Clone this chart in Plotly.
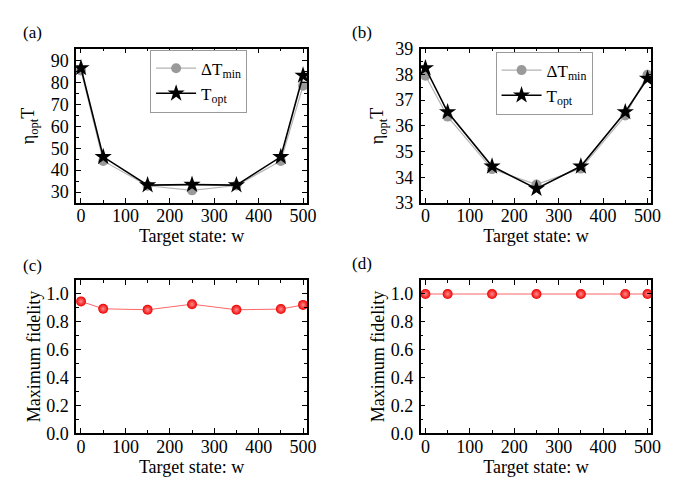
import plotly.graph_objects as go

w = [0, 50, 150, 250, 350, 450, 500]

# Panel (a)
a_dtmin = [85.5, 44.2, 32.9, 30.8, 33.0, 44.2, 78.5]
a_topt = [86.6, 46.1, 33.2, 33.4, 33.2, 46.1, 83.2]
# Panel (b)
b_dtmin = [37.95, 36.36, 34.32, 33.72, 34.34, 36.40, 37.99]
b_topt = [38.25, 36.54, 34.43, 33.56, 34.43, 36.54, 37.84]
# Panel (c), (d)
c_fid = [0.945, 0.892, 0.885, 0.925, 0.885, 0.89, 0.92]
d_fid = [0.998, 0.998, 0.998, 0.998, 0.998, 0.998, 0.998]

FONT = "'Liberation Serif', 'Times New Roman', 'DejaVu Serif', serif"
W, H = 689, 487

def px_x(a, b):
    return [a / W, b / W]

def px_y(top, bottom):
    return [1 - bottom / H, 1 - top / H]

fig = go.Figure()

gray_line = dict(color="#b4b4b4", width=1.2)
gray_marker = dict(symbol="circle", size=10, color="#9a9a9a")
black_line = dict(color="black", width=1.6)
star_marker = dict(symbol="star", size=13, color="black")
red_marker = dict(symbol="circle", size=10, color="#ee0000",
                  gradient=dict(type="radial", color="#ff8c8c"))
red_line = dict(color="#ff6666", width=1)

fig.add_trace(go.Scatter(x=w, y=a_dtmin, mode="lines+markers", line=gray_line, marker=gray_marker,
                         name="ΔT<sub>min</sub>", xaxis="x", yaxis="y", legend="legend"))
fig.add_trace(go.Scatter(x=w, y=a_topt, mode="lines+markers", line=black_line, marker=star_marker,
                         name="T<sub>opt</sub>", xaxis="x", yaxis="y", legend="legend"))
fig.add_trace(go.Scatter(x=w, y=b_dtmin, mode="lines+markers", line=gray_line, marker=gray_marker,
                         name="ΔT<sub>min</sub>", xaxis="x2", yaxis="y2", legend="legend2"))
fig.add_trace(go.Scatter(x=w, y=b_topt, mode="lines+markers", line=black_line, marker=star_marker,
                         name="T<sub>opt</sub>", xaxis="x2", yaxis="y2", legend="legend2"))
fig.add_trace(go.Scatter(x=w, y=c_fid, mode="lines+markers", line=red_line, marker=red_marker,
                         showlegend=False, xaxis="x3", yaxis="y3"))
fig.add_trace(go.Scatter(x=w, y=d_fid, mode="lines+markers", line=red_line, marker=red_marker,
                         showlegend=False, xaxis="x4", yaxis="y4"))

tickfont = dict(family=FONT, size=18, color="black")
titlefont = dict(family=FONT, size=18, color="black")

def xax(domain, anchor):
    return dict(domain=domain, anchor=anchor, range=[-11, 509], dtick=100, tick0=0,
                showline=True, linewidth=1.5, linecolor="black", mirror="allticks",
                ticks="inside", ticklen=5, tickwidth=1, tickcolor="black",
                minor=dict(ticks="inside", ticklen=3, dtick=50, tickcolor="black"),
                showgrid=False, zeroline=False, tickfont=tickfont, ticklabelstandoff=-4,
                title=dict(text="Target state: w", font=titlefont, standoff=3))

def yax(domain, anchor, rng, dtick, minor, title, standoff, fmt=None):
    d = dict(domain=domain, anchor=anchor, range=rng, dtick=dtick,
             showline=True, linewidth=1.5, linecolor="black", mirror="allticks",
             ticks="inside", ticklen=5, tickwidth=1, tickcolor="black",
             minor=dict(ticks="inside", ticklen=3, dtick=minor, tickcolor="black"),
             showgrid=False, zeroline=False, tickfont=tickfont, ticklabelstandoff=2,
             title=dict(text=title, font=titlefont, standoff=standoff))
    if fmt:
        d["tickformat"] = fmt
    return d

top_row = px_y(32, 193)
bot_row = px_y(273, 433)
left_col = px_x(69, 303)
right_col = px_x(418, 652)

legend_common = dict(font=dict(family=FONT, size=17, color="black"), bgcolor="white",
                     bordercolor="#9a9a9a", borderwidth=1, xanchor="left", yanchor="top",
                     itemwidth=40, tracegroupgap=0)

fig.update_layout(
    width=W, height=H, margin=dict(l=0, r=0, t=0, b=0),
    paper_bgcolor="white", plot_bgcolor="white",
    font=dict(family=FONT, color="black"),
    xaxis=xax(left_col, "y"),
    yaxis=yax(top_row, "x", [25, 95.4], 10, 5, "η<sub>opt</sub>T", 11),
    xaxis2=xax(right_col, "y2"),
    yaxis2=yax(top_row, "x2", [33, 39], 1, 0.5, "η<sub>opt</sub>T", 7),
    xaxis3=xax(left_col, "y3"),
    yaxis3=yax(bot_row, "x3", [0, 1.1], 0.2, 0.1, "Maximum fidelity", 1, ".1f"),
    xaxis4=xax(right_col, "y4"),
    yaxis4=yax(bot_row, "x4", [0, 1.1], 0.2, 0.1, "Maximum fidelity", 1, ".1f"),
    legend=dict(x=144 / W, y=1 - 33 / H, **legend_common),
    legend2=dict(x=494 / W, y=1 - 35 / H, **legend_common),
)

for label, x, y in [("(a)", 13, 15), ("(b)", 347, 15), ("(c)", 13, 258), ("(d)", 347, 256)]:
    fig.add_annotation(text=label, x=x / W, y=1 - y / H, xref="paper", yref="paper",
                       xanchor="left", yanchor="middle", showarrow=False,
                       font=dict(family=FONT, size=17, color="black"))

fig.write_html("out.html")
